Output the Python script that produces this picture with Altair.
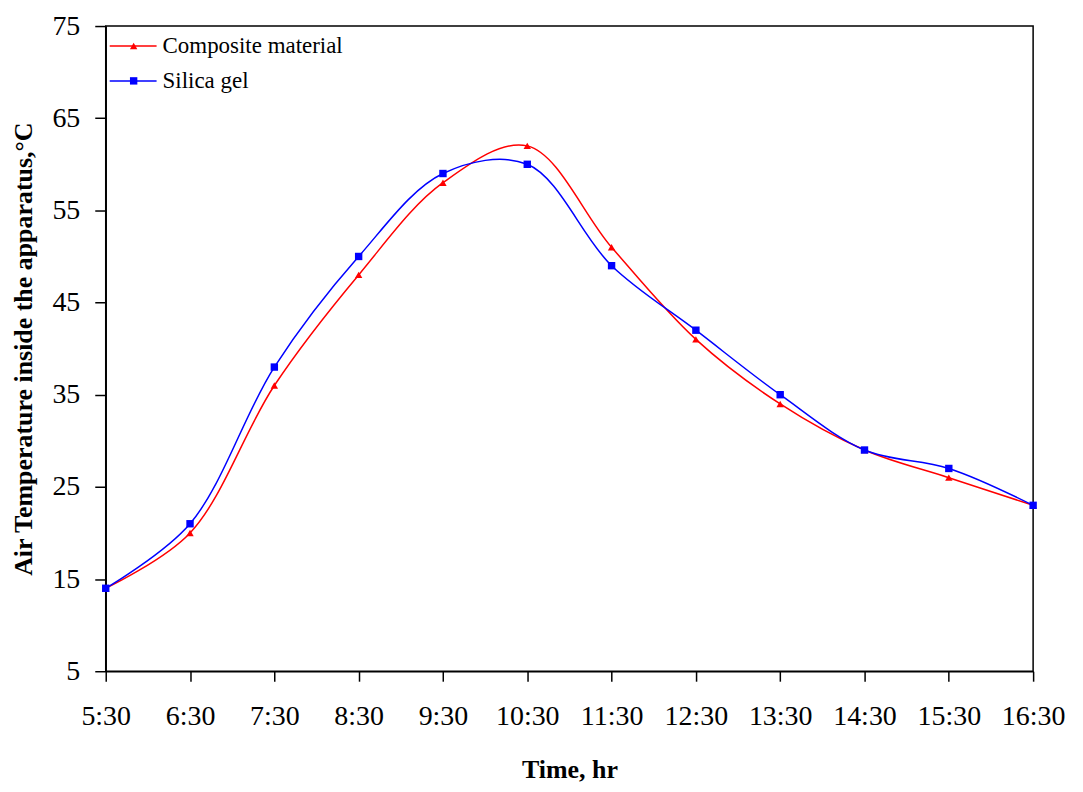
import altair as alt
import pandas as pd

times = ["5:30", "6:30", "7:30", "8:30", "9:30", "10:30", "11:30",
         "12:30", "13:30", "14:30", "15:30", "16:30"]
composite = [14, 20, 36, 48, 58, 62, 51, 41, 34, 29, 26, 23]
silica = [14, 21, 38, 50, 59, 60, 49, 42, 35, 29, 27, 23]
series_names = ["Composite material", "Silica gel"]
series_colors = ["#ff0000", "#0000ff"]
series_shapes = ["triangle-up", "square"]
y_ticks = [5, 15, 25, 35, 45, 55, 65, 75]

rows = []
for name, vals in zip(series_names, [composite, silica]):
    for i, (t, v) in enumerate(zip(times, vals)):
        rows.append({"idx": i, "time": t, "temp": v, "series": name})
df = pd.DataFrame(rows)

color_scale = alt.Scale(domain=series_names, range=series_colors)
shape_scale = alt.Scale(domain=series_names, range=series_shapes)

label_expr = "[" + ",".join("'%s'" % t for t in times) + "][datum.value]"

x_enc = alt.X("idx:Q",
              scale=alt.Scale(domain=[0, len(times) - 1], nice=False, zero=False),
              axis=alt.Axis(title="Time, hr", values=list(range(len(times))),
                            labelExpr=label_expr, tickSize=10, labelPadding=21,
                            titlePadding=27, labelFlush=False))
y_enc = alt.Y("temp:Q",
              scale=alt.Scale(domain=[5, 75], nice=False, zero=False),
              axis=alt.Axis(title="Air Temperature inside the apparatus,°C",
                            values=y_ticks, tickSize=11, labelPadding=15,
                            titlePadding=15))

base = alt.Chart(df)
lines = base.mark_line(interpolate="catmull-rom", strokeWidth=1.5).encode(
    x=x_enc, y=y_enc,
    color=alt.Color("series:N", scale=color_scale, legend=None),
    detail="series:N",
)
points = base.mark_point(filled=True, size=55, opacity=1).encode(
    x=x_enc, y=y_enc,
    color=alt.Color("series:N", scale=color_scale, legend=None),
    shape=alt.Shape("series:N", scale=shape_scale, legend=None),
)

legend_layers = []
for i, (name, col, shp) in enumerate(zip(series_names, series_colors, series_shapes)):
    ldf = pd.DataFrame({"series": [name]})
    yy = 20 + 35 * i
    lc = alt.Chart(ldf)
    legend_layers.append(lc.mark_rule(color=col, strokeWidth=1.5).encode(
        x=alt.value(4), x2=alt.value(51), y=alt.value(yy)))
    legend_layers.append(lc.mark_point(filled=True, size=55, color=col, shape=shp, opacity=1).encode(
        x=alt.value(28), y=alt.value(yy)))
    legend_layers.append(lc.mark_text(align="left", baseline="middle", fontSize=23,
                                      font="Liberation Serif", color="black").encode(
        x=alt.value(57), y=alt.value(yy), text="series:N"))

chart = alt.layer(lines, points, *legend_layers).properties(
    width=930, height=647,
    autosize=alt.AutoSizeParams(type="none"),
    padding={"left": 98, "top": 17, "right": 42, "bottom": 112},
    background="white",
).configure_view(
    stroke="black", strokeWidth=1.5
).configure_axis(
    grid=False, domainColor="black", domainWidth=1.5, tickColor="black", tickWidth=1.5,
    labelColor="black", titleColor="black", labelFont="Liberation Serif",
    titleFont="Liberation Serif", labelFontSize=28, titleFontSize=26,
    titleFontWeight="bold", labelAngle=0,
)

chart.save("out.html", embed_options={"renderer": "svg", "actions": False})
